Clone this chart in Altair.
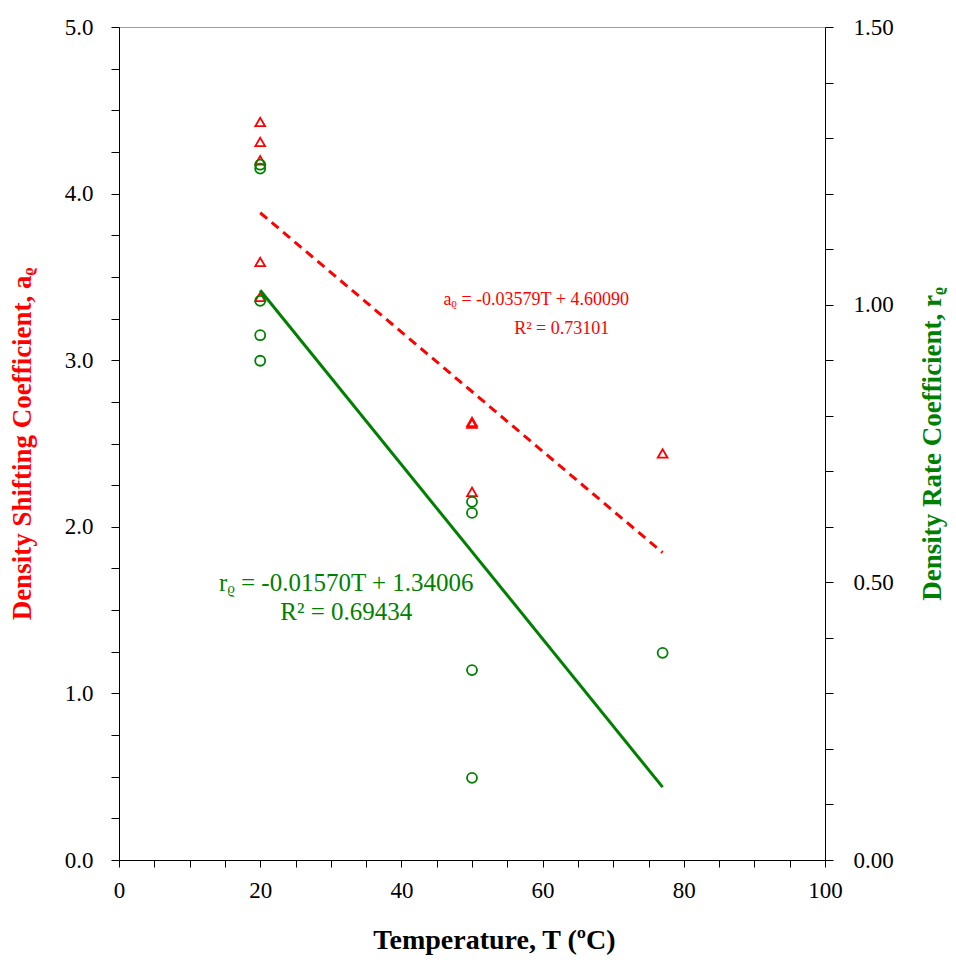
import altair as alt
import pandas as pd

# ---- data ----
T_a = [20, 20, 20, 20, 20, 50, 50, 50, 77]
a_vals = [4.43, 4.31, 4.20, 3.59, 3.38, 2.63, 2.62, 2.21, 2.44]
T_r = [20, 20, 20, 20, 20, 50, 50, 50, 50, 77]
r_vals = [1.252, 1.245, 1.007, 0.945, 0.899, 0.645, 0.625, 0.342, 0.148, 0.373]

a_slope, a_int = -0.03579, 4.60090
r_slope, r_int = -0.01570, 1.34006
fit_T = [20, 77]

a_eq_lines = ["aᵨ = -0.03579T + 4.60090", "R² = 0.73101"]
a_eq_T = [59.1, 62.7]
a_eq_y = [3.36, 3.19]
r_eq_lines = ["rᵨ = -0.01570T + 1.34006", "R² = 0.69434"]
r_eq_T = [32.2, 32.2]
r_eq_y = [1.66, 1.49]

RED = "#FF0000"
GREEN = "#008000"
FONT = "Liberation Serif"

df_a = pd.DataFrame({"T": T_a, "a": a_vals})
df_r = pd.DataFrame({"T": T_r, "r": r_vals})
df_afit = pd.DataFrame({"T": fit_T, "a": [a_int + a_slope * t for t in fit_T]})
df_rfit = pd.DataFrame({"T": fit_T, "r": [r_int + r_slope * t for t in fit_T]})
df_aeq = pd.DataFrame({"T": a_eq_T, "a": a_eq_y, "txt": a_eq_lines})
df_req = pd.DataFrame({"T": r_eq_T, "a": r_eq_y, "txt": r_eq_lines})

W, H = 706, 833

x_enc = alt.X(
    "T:Q",
    scale=alt.Scale(domain=[0, 100], nice=False, zero=False),
    axis=alt.Axis(
        values=list(range(0, 101, 5)),
        labelExpr="datum.value % 20 === 0 ? datum.label : ''",
        labelOverlap=False,
        title="Temperature, T (ºC)",
        titleFont=FONT, titleFontSize=28, titleFontWeight="bold", titleColor="black",
        titleX=375, titleY=88, titleBaseline="alphabetic",
        labelFont=FONT, labelFontSize=23, labelColor="black", labelPadding=12,
        tickSize=7, tickColor="black", domainColor="black", grid=False,
        labelFlush=False,
    ),
)

a_axis = alt.Axis(
    values=[i * 0.25 for i in range(0, 21)],
    labelExpr="datum.value % 1 === 0 ? format(datum.value, '.1f') : ''",
    labelOverlap=False,
    title="Density Shifting Coefficient, aᵨ",
    titleFont=FONT, titleFontSize=27, titleFontWeight="bold", titleColor=RED,
    titleAngle=270, titleX=-97, titleY=H / 2, titleBaseline="middle", titleAlign="center",
    labelFont=FONT, labelFontSize=23, labelColor="black", labelPadding=18,
    tickSize=8, tickColor="black", domainColor="black", grid=False, orient="left",
    labelFlush=False,
)
a_scale = alt.Scale(domain=[0, 5], nice=False, zero=False)

r_axis = alt.Axis(
    values=[i * 0.1 for i in range(0, 16)],
    labelExpr="abs(datum.value * 2 - round(datum.value * 2)) < 1e-6 ? format(datum.value, '.2f') : ''",
    labelOverlap=False,
    title="Density Rate Coefficient, rᵨ",
    titleFont=FONT, titleFontSize=27, titleFontWeight="bold", titleColor=GREEN,
    titleAngle=270, titleX=107, titleY=H / 2, titleBaseline="middle", titleAlign="center",
    labelFont=FONT, labelFontSize=23, labelColor="black", labelPadding=20,
    tickSize=8, tickColor="black", domainColor="black", grid=False, orient="right",
    labelFlush=False,
)
r_scale = alt.Scale(domain=[0, 1.5], nice=False, zero=False)

a_pts = alt.Chart(df_a).mark_point(
    shape="triangle-up", filled=False, color=RED, size=95, strokeWidth=1.8, opacity=1
).encode(x=x_enc, y=alt.Y("a:Q", scale=a_scale, axis=a_axis))

a_fit = alt.Chart(df_afit).mark_line(
    color=RED, strokeWidth=3, strokeDash=[9, 6]
).encode(x=x_enc, y=alt.Y("a:Q", scale=a_scale, axis=a_axis))

a_txt = alt.Chart(df_aeq).mark_text(
    color=RED, font=FONT, fontSize=18, align="center", baseline="middle"
).encode(x=x_enc, y=alt.Y("a:Q", scale=a_scale, axis=a_axis), text="txt:N")

r_txt = alt.Chart(df_req).mark_text(
    color=GREEN, font=FONT, fontSize=25, align="center", baseline="middle"
).encode(x=x_enc, y=alt.Y("a:Q", scale=a_scale, axis=a_axis), text="txt:N")

left = alt.layer(a_fit, a_pts, a_txt, r_txt)

r_pts = alt.Chart(df_r).mark_point(
    shape="circle", filled=False, color=GREEN, size=100, strokeWidth=1.8, opacity=1
).encode(x=x_enc, y=alt.Y("r:Q", scale=r_scale, axis=r_axis))

r_fit = alt.Chart(df_rfit).mark_line(
    color=GREEN, strokeWidth=3
).encode(x=x_enc, y=alt.Y("r:Q", scale=r_scale, axis=r_axis))

right = alt.layer(r_fit, r_pts)

chart = (
    alt.layer(left, right)
    .resolve_scale(y="independent")
    .properties(
        width=W, height=H,
        autosize=alt.AutoSizeParams(type="none"),
        padding={"left": 119, "top": 27, "right": 131, "bottom": 100},
        background="white",
    )
    .configure_view(stroke="#a0a0a0", strokeWidth=1)
)

chart.save("out.html", embed_options={"renderer": "svg", "actions": False})
